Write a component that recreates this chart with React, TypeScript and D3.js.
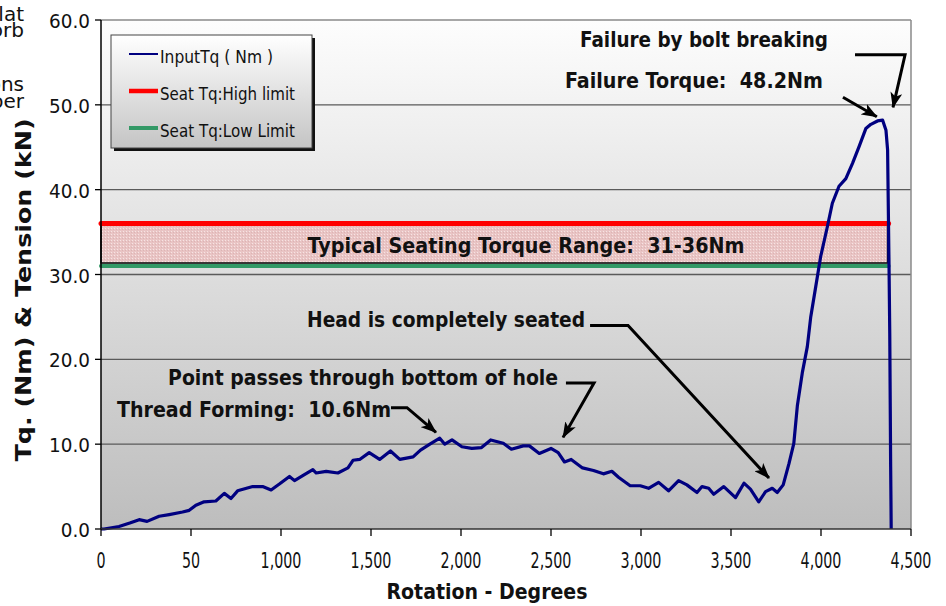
import React from "react";
import * as d3 from "d3";

// ---------- data ----------
const rotation = [
  0, 17, 100, 160, 212, 256, 323, 379, 453, 490, 527, 573, 638, 685, 722, 759, 843, 898, 945, 991,
  1047, 1075, 1130, 1177, 1195, 1251, 1316, 1372, 1400, 1437, 1490, 1548, 1608, 1660, 1734, 1775,
  1827, 1882, 1910, 1950, 2005, 2060, 2114, 2165, 2235, 2280, 2346, 2380, 2435, 2500, 2540, 2575,
  2612, 2675, 2736, 2791, 2838, 2875, 2940, 2996, 3042, 3098, 3153, 3209, 3255, 3311, 3339, 3376,
  3404, 3460, 3525, 3572, 3608, 3654, 3692, 3729, 3757, 3790, 3822, 3849, 3869, 3896, 3924, 3943,
  3971, 3998, 4035, 4063, 4100, 4138, 4175, 4212, 4249, 4277, 4314, 4342, 4361, 4370, 4378, 4382,
  4387, 4390,
];
const torque = [
  0.0, 0.0, 0.3, 0.7, 1.1, 0.9, 1.5, 1.7, 2.0, 2.2, 2.8, 3.2, 3.3, 4.2, 3.6, 4.5, 5.0, 5.0, 4.6, 5.3,
  6.2, 5.7, 6.4, 7.0, 6.6, 6.8, 6.6, 7.2, 8.1, 8.2, 9.0, 8.2, 9.2, 8.2, 8.5, 9.3,
  10.0, 10.7, 10.0, 10.5, 9.7, 9.5, 9.6, 10.5, 10.1, 9.4, 9.8, 9.8, 8.9, 9.5, 9.0, 7.9,
  8.2, 7.2, 6.9, 6.5, 6.8, 6.1, 5.1, 5.1, 4.8, 5.5, 4.5, 5.7, 5.2, 4.3, 5.0, 4.8,
  4.1, 5.0, 3.7, 5.4, 4.7, 3.2, 4.4, 4.8, 4.3, 5.2, 7.7, 10.1, 14.6, 18.4, 21.5, 25.0,
  28.6, 32.1, 35.6, 38.4, 40.4, 41.3, 43.1, 45.1, 47.2, 47.7, 48.1, 48.2, 47.0, 44.7, 30.9, 23.0,
  7.3, 0.0,
];

const yTicks = [0, 10, 20, 30, 40, 50, 60];
const yTickLabels = ["0.0", "10.0", "20.0", "30.0", "40.0", "50.0", "60.0"];
const xTicks = [0, 500, 1000, 1500, 2000, 2500, 3000, 3500, 4000, 4500];
const xTickLabels = ["0", "50", "1,000", "1,500", "2,000", "2,500", "3,000", "3,500", "4,000", "4,500"];

const seatHigh = 36;
const seatLow = 31;
const bandEnd = 4370;

const legendLabels = ["InputTq ( Nm )", "Seat Tq:High limit", "Seat Tq:Low Limit"];
const bandLabel = "Typical Seating Torque Range:  31-36Nm";
const annotationTexts = [
  "Failure by bolt breaking",
  "Failure Torque:  48.2Nm",
  "Head is completely seated",
  "Point passes through bottom of hole",
  "Thread Forming:  10.6Nm",
];
const cutTexts = ["lat", "orb", "ons", "per"];

// ---------- layout (data units for annotations) ----------
const annotationLayout = [
  { at: [3350, 56.8], len: 248, arrow: [[4189, 55.9], [4467, 55.9], [4400, 49.7]] },
  { at: [3294, 52.0], len: 258, arrow: [[4122, 50.9], [4310, 48.6]] },
  { at: [1917, 23.8], len: 278, arrow: [[2717, 24.0], [2928, 24.0], [3711, 6.0]] },
  { at: [1456, 17.0], len: 390, arrow: [[2583, 17.2], [2739, 17.2], [2567, 10.8]] },
  { at: [850, 13.2], len: 274, arrow: [[1611, 14.3], [1700, 14.3], [1861, 11.4]] },
];
const bandLabelAt = [2361, 32.5];

const W = 946;
const H = 606;
const L = 101, R = 911, T = 20, B = 529;
const FONT = "'DejaVu Sans', Verdana, sans-serif";

export default function App() {
  const x = d3.scaleLinear().domain([0, 4500]).range([L, R]);
  const y = d3.scaleLinear().domain([0, 60]).range([B, T]);
  const pts: [number, number][] = rotation.map((r, i) => [r, torque[i]]);
  const line = d3.line<[number, number]>().x((d) => x(d[0])).y((d) => y(d[1]));
  const arrowLine = d3.line<number[]>().x((d) => x(d[0])).y((d) => y(d[1]));

  const legendColors = ["#000080", "#ff0000", "#339966"];
  const legendWidths = [2, 4.5, 4];
  const legendLens = [113, 135, 135];

  return (
    <svg width={W} height={H} style={{ position: "absolute", left: 0, top: 0, background: "#fff" }}>
      <defs>
        <linearGradient id="plotbg" x1="0" y1="0" x2="0" y2="1">
          <stop offset="0" stopColor="#fdfdfd" />
          <stop offset="1" stopColor="#bdbdbd" />
        </linearGradient>
        <linearGradient id="legbg" x1="0" y1="0" x2="0" y2="1">
          <stop offset="0" stopColor="#ffffff" />
          <stop offset="1" stopColor="#c4c4c4" />
        </linearGradient>
        <pattern id="bandpat" width="3" height="3" patternUnits="userSpaceOnUse">
          <rect width="3" height="3" fill="#e9c4c4" />
          <rect width="1" height="1" fill="#f6e4e4" />
          <rect x="2" y="1" width="1" height="1" fill="#dcb4b4" />
        </pattern>
        <marker id="ah" viewBox="0 0 16 12" refX="15" refY="6" markerWidth="16" markerHeight="12"
          markerUnits="userSpaceOnUse" orient="auto">
          <path d="M0,0 L16,6 L0,12 L4,6 Z" fill="#000" />
        </marker>
      </defs>

      {/* cut-off text on the left */}
      {cutTexts.map((t, i) => (
        <text key={t} x={24} y={[21, 37, 91, 108][i]} fontFamily={FONT} fontSize={20}
          textAnchor="end" fill="#111">{t}</text>
      ))}

      {/* plot area */}
      <rect x={L} y={T} width={R - L} height={B - T} fill="url(#plotbg)" />
      {yTicks.filter((v) => v > 0).map((v) => (
        <line key={v} x1={L} x2={R} y1={y(v)} y2={y(v)} stroke={v === 60 ? "#8a8a8a" : "#5a5a5a"} strokeWidth={1.3} />
      ))}
      <line x1={R} x2={R} y1={T} y2={B} stroke="#8a8a8a" strokeWidth={1.5} />

      {/* seating band */}
      <rect x={x(0)} y={y(seatHigh)} width={x(bandEnd) - x(0)} height={y(seatLow) - y(seatHigh) - 3}
        fill="url(#bandpat)" stroke="#111" strokeWidth={1.6} />
      <line x1={x(0)} x2={x(bandEnd) + 1} y1={y(seatHigh)} y2={y(seatHigh)} stroke="#ff0000" strokeWidth={5} strokeLinecap="round" />
      <line x1={x(0)} x2={x(bandEnd) + 1} y1={y(seatLow)} y2={y(seatLow)} stroke="#339966" strokeWidth={4} strokeLinecap="round" />
      <text x={x(bandLabelAt[0])} y={y(bandLabelAt[1])} fontFamily={FONT} fontWeight="bold" fontSize={21}
        textAnchor="middle" textLength={437} lengthAdjust="spacingAndGlyphs" style={{ whiteSpace: "pre" }} fill="#111">
        {bandLabel}
      </text>

      {/* data line */}
      <path d={line(pts) ?? ""} fill="none" stroke="#000080" strokeWidth={3.2} strokeLinejoin="round" />

      {/* axes */}
      <line x1={L} x2={L} y1={T} y2={B} stroke="#000" strokeWidth={1.5} />
      <line x1={L} x2={R} y1={B} y2={B} stroke="#333" strokeWidth={1.5} />
      {yTicks.map((v, i) => (
        <g key={v}>
          <line x1={L - 6} x2={L} y1={y(v)} y2={y(v)} stroke="#000" strokeWidth={1.3} />
          <text transform={`translate(${L - 11},${y(v) + 8}) scale(0.92,1)`} fontFamily={FONT} fontSize={20}
            textAnchor="end" fill="#111">{yTickLabels[i]}</text>
        </g>
      ))}
      {xTicks.map((v, i) => (
        <g key={v}>
          <line x1={x(v)} x2={x(v)} y1={B} y2={B + 7} stroke="#000" strokeWidth={1.3} />
          <text transform={`translate(${x(v)},${568}) scale(0.68,1)`} fontFamily={FONT} fontSize={21}
            textAnchor="middle" fill="#111">{xTickLabels[i]}</text>
        </g>
      ))}
      <text x={487} y={599} fontFamily={FONT} fontWeight="bold" fontSize={21} textAnchor="middle"
        textLength={201} lengthAdjust="spacingAndGlyphs" fill="#111">Rotation - Degrees</text>
      <text transform={`translate(31,290) rotate(-90)`} fontFamily={FONT} fontWeight="bold" fontSize={21}
        textAnchor="middle" textLength={343} lengthAdjust="spacingAndGlyphs" fill="#111">Tq. (Nm) &amp; Tension (kN)</text>

      {/* annotations */}
      {annotationLayout.map((a, i) => (
        <g key={i}>
          <text x={x(a.at[0])} y={y(a.at[1])} fontFamily={FONT} fontWeight="bold" fontSize={21}
            textAnchor="middle" textLength={a.len} lengthAdjust="spacingAndGlyphs"
            style={{ whiteSpace: "pre" }} fill="#111">{annotationTexts[i]}</text>
          <path d={arrowLine(a.arrow) ?? ""} fill="none" stroke="#000" strokeWidth={3}
            strokeLinejoin="miter" markerEnd="url(#ah)" />
        </g>
      ))}

      {/* legend */}
      <rect x={114} y={38} width={201} height={113} fill="#111" />
      <rect x={111} y={35} width={201} height={113} fill="url(#legbg)" stroke="#444" strokeWidth={1} />
      {legendLabels.map((lab, i) => {
        const by = 63 + i * 37;
        return (
          <g key={lab}>
            <line x1={129} x2={158} y1={by - 9} y2={by - 9} stroke={legendColors[i]} strokeWidth={legendWidths[i]} />
            <text x={160} y={by} fontFamily={FONT} fontSize={18} textLength={legendLens[i]}
              lengthAdjust="spacingAndGlyphs" style={{ whiteSpace: "pre" }} fill="#111">{lab}</text>
          </g>
        );
      })}
    </svg>
  );
}
